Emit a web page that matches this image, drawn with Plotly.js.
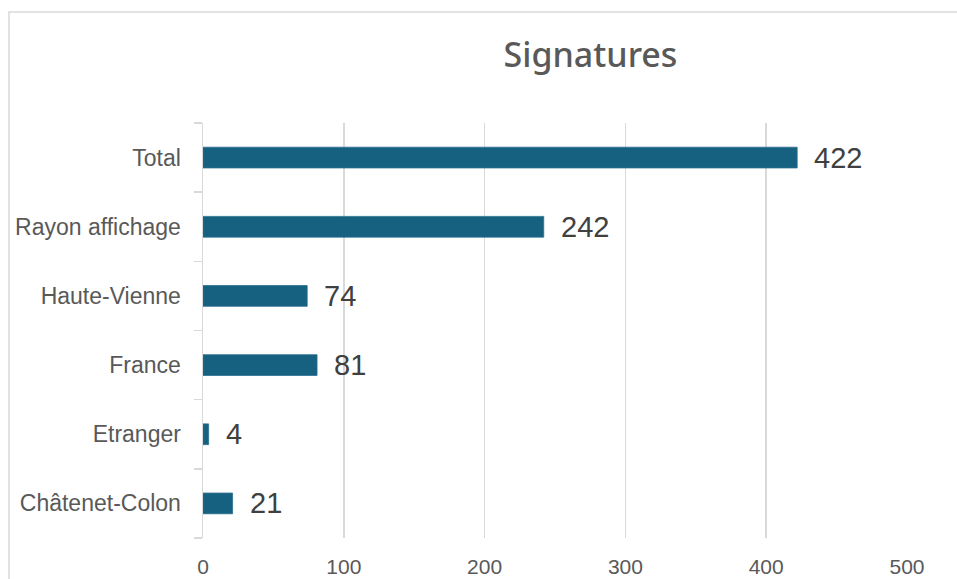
<!DOCTYPE html>
<html>
<head>
<meta charset="utf-8">
<script src="https://cdn.plot.ly/plotly-3.0.1.min.js"></script>
<style>
  html, body { margin: 0; padding: 0; background: #ffffff; }
  #chart { width: 957px; height: 579px; }
</style>
</head>
<body>
<div id="chart"></div>
<script>
// Data (bottom to top)
const categories = ["Châtenet-Colon", "Etranger", "France", "Haute-Vienne", "Rayon affichage", "Total"];
const signatures = [21, 4, 81, 74, 242, 422];
const xTicks = [0, 100, 200, 300, 400, 500];
const chartTitle = "Signatures";

const barColor = "#166080";
const gridColor = "#d9d9d9";
const labelColor = "#595959";

const trace = {
  type: "bar",
  orientation: "h",
  x: signatures,
  y: categories,
  marker: { color: barColor, line: { color: "#2a7090", width: 0.8 } },
  hoverinfo: "x+y"
};

const annotations = categories.map((c, i) => ({
  x: signatures[i],
  y: c,
  xref: "x",
  yref: "y",
  text: String(signatures[i]),
  showarrow: false,
  xanchor: "left",
  yanchor: "middle",
  xshift: 15,
  font: { family: "Liberation Sans, Arial, sans-serif", size: 29, color: "#404040" }
}));

const layout = {
  width: 957,
  height: 579,
  margin: { l: 203, r: 50, t: 123, b: 41 },
  paper_bgcolor: "#ffffff",
  plot_bgcolor: "#ffffff",
  showlegend: false,
  bargap: 0.7,
  title: {
    text: chartTitle,
    font: { family: "Noto Sans, Liberation Sans, Arial, sans-serif", size: 34, color: labelColor, weight: 500 },
    x: 0.617,
    xanchor: "center",
    y: 0.905,
    yanchor: "middle"
  },
  xaxis: {
    range: [0, 500],
    tickvals: xTicks,
    ticktext: xTicks.map(String),
    showgrid: true,
    gridcolor: gridColor,
    gridwidth: 1.5,
    zeroline: false,
    showline: false,
    ticks: "",
    ticklabelstandoff: 14,
    tickfont: { family: "Liberation Sans, Arial, sans-serif", size: 21, color: labelColor },
    fixedrange: true
  },
  yaxis: {
    type: "category",
    categoryorder: "array",
    categoryarray: categories,
    showgrid: false,
    zeroline: false,
    showline: true,
    linecolor: gridColor,
    linewidth: 1.5,
    ticks: "outside",
    tickson: "boundaries",
    ticklen: 8,
    tickcolor: gridColor,
    tickwidth: 1.5,
    ticklabelstandoff: 16,
    tickfont: { family: "Liberation Sans, Arial, sans-serif", size: 23, color: labelColor },
    fixedrange: true
  },
  annotations: annotations,
  shapes: [{
    type: "rect",
    xref: "paper",
    yref: "paper",
    x0: -0.2756,
    x1: 2,
    y0: -1,
    y1: 1.2675,
    line: { color: gridColor, width: 1.5 },
    fillcolor: "rgba(0,0,0,0)",
    layer: "below"
  }]
};

Plotly.newPlot("chart", [trace], layout, { displayModeBar: false, staticPlot: true });
</script>
</body>
</html>
